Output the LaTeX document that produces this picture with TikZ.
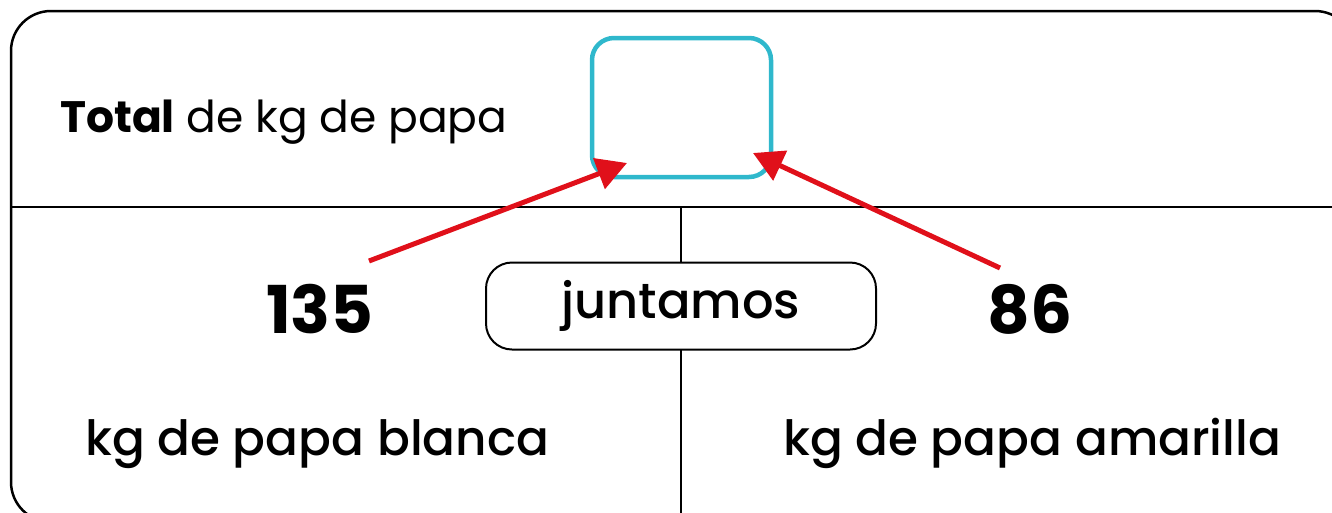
\documentclass[tikz,border=0pt]{standalone}
\usepackage{fontspec}
\setmainfont{Poppins}
\newfontfamily\medio{Poppins Medium}
\usetikzlibrary{arrows.meta}
\definecolor{cian}{HTML}{2FB8CC}
\definecolor{rojo}{HTML}{E0101A}
\tikzset{
    flecha/.style={line width=5pt, color=rojo, -{Triangle[length=30pt,width=32pt]}},
    texto/.style={inner sep=0pt, font=\fontsize{44}{50}\selectfont},
    etiqueta/.style={inner sep=0pt, font=\fontsize{48.5}{54}\selectfont\medio},
    numero/.style={inner sep=0pt, font=\fontsize{66}{72}\selectfont\bfseries}
}
\begin{document}
\begin{tikzpicture}[x=1pt, y=-1pt]
        % marco
        \useasboundingbox (0,0) rectangle (1332,512);
        \clip (0,0) rectangle (1332,512);
        \draw[line width=2.5pt, rounded corners=40pt] (11,11) rectangle (1355,522);
        \draw[line width=2pt] (11,207) -- (1345,207);
        \draw[line width=2pt] (681,207) -- (681,520);

        % fila de arriba
        \node[texto, anchor=base west] (total) at (60,132) {\textbf{Total} de kg de papa};
        \draw[line width=4.5pt, color=cian, rounded corners=22pt] (592,38) rectangle (771,177);
        \coordinate (cajaI) at (627,163);
        \coordinate (cajaD) at (753,153);

        % juntamos
        \node[draw, line width=2pt, fill=white, rounded corners=26pt, minimum width=390pt,
              minimum height=87pt, font=\fontsize{49.5}{54}\selectfont\medio] (junt) at (681,306) {juntamos};

        % numeros y flechas
        \node[numero] (n135) at (320,309) {135};
        \node[numero] (n86) at (1030,309) {86};
        \coordinate (a1) at (369,261);
        \coordinate (a2) at (1000,268);
        \draw[flecha] (a1) -- (cajaI);
        \draw[flecha] (a2) -- (cajaD);

        % etiquetas de abajo
        \node[etiqueta, anchor=base west] (blanca) at (85,455) {kg de papa blanca};
        \node[etiqueta, anchor=base west] (amarilla) at (783,455) {kg de papa amarilla};
    \end{tikzpicture}
\end{document}
